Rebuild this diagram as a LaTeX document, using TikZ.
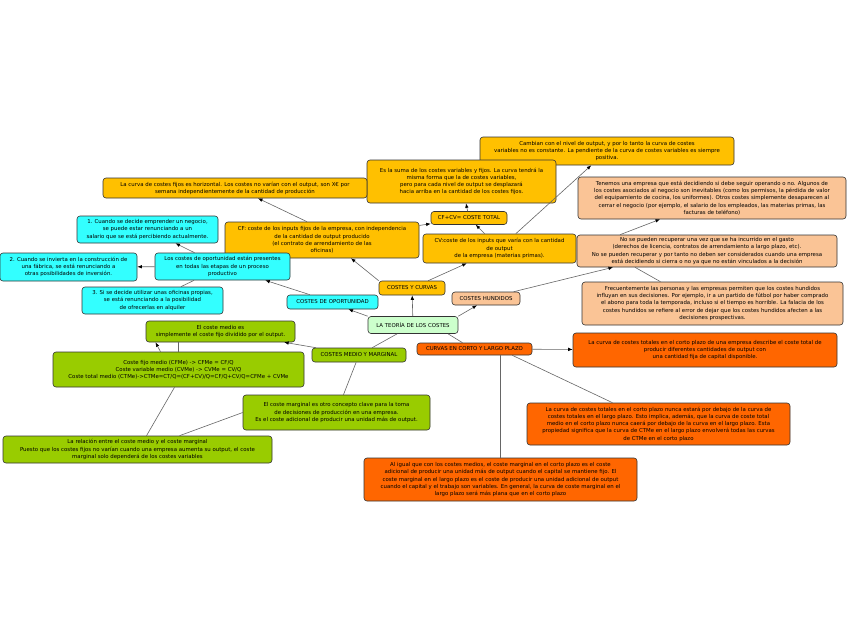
\documentclass[tikz,border=0pt]{standalone}
\usepackage{fontspec}
\setmainfont{DejaVu Sans}
\usepackage{xcolor}
\usepackage{tikz}
\usetikzlibrary{positioning, calc, arrows.meta}

\definecolor{rootcol}{HTML}{CCFFCC}
\definecolor{curvcol}{HTML}{FFC000}
\definecolor{opocol}{HTML}{33FFFF}
\definecolor{huncol}{HTML}{FAC496}
\definecolor{medcol}{HTML}{99CC00}
\definecolor{plazocol}{HTML}{FF6600}

\tikzset{
  box/.style={draw=black!80, line width=0.6pt, rounded corners=3pt, align=center,
    inner sep=1.2pt, font=\fontsize{5.4}{7.2}\selectfont},
  rootbox/.style={box, fill=rootcol},
  curvbox/.style={box, fill=curvcol},
  opobox/.style={box, fill=opocol},
  hunbox/.style={box, fill=huncol},
  medbox/.style={box, fill=medcol},
  plazobox/.style={box, fill=plazocol},
  link/.style={draw=black!60, line width=0.6pt},
  arr/.style={link, -{Latex[length=4.5pt,width=3.5pt,color=black]}},
}

\begin{document}
\begin{tikzpicture}[x=1pt, y=-1pt]
  \useasboundingbox[fill=white] (0,0) rectangle (848,638);

  % centro
  \node[rootbox, minimum width=90, minimum height=17] (root) at (413,325) {LA TEORÍA DE LOS COSTES};

  % ramas principales
  \node[curvbox, minimum width=66, minimum height=14] (cyc) at (412,288) {COSTES Y CURVAS};
  \node[opobox, minimum width=91, minimum height=14] (opo) at (332.5,302) {COSTES DE OPORTUNIDAD};
  \node[hunbox, minimum width=68, minimum height=13] (hun) at (486,298.5) {COSTES HUNDIDOS};
  \node[medbox, minimum width=94, minimum height=14] (mym) at (359,355) {COSTES MEDIO Y MARGINAL};
  \node[plazobox, minimum width=115, minimum height=12] (cla) at (474.5,349) {CURVAS EN CORTO Y LARGO PLAZO};

  % costes y curvas
  \node[curvbox, minimum width=254, minimum height=28] (camb) at (607,151)
    {Cambian con el nivel de output, y por lo tanto la curva de costes\\
     variables no es constante. La pendiente de la curva de costes variables es siempre\\
     positiva.};
  \node[curvbox, minimum width=189, minimum height=43] (suma) at (461.5,181.5)
    {Es la suma de los costes variables y fijos. La curva tendrá la\\
     misma forma que la de costes variables,\\
     pero para cada nivel de output se desplazará\\
     hacia arriba en la cantidad de los costes fijos.};
  \node[curvbox, minimum width=76, minimum height=13] (cft) at (469,218) {CF+CV= COSTE TOTAL};
  \node[curvbox, minimum width=264, minimum height=20] (hor) at (235,188)
    {La curva de costes fijos es horizontal. Los costes no varían con el output, son X€ por\\
     semana independientemente de la cantidad de producción};
  \node[curvbox, minimum width=194, minimum height=36] (cf) at (322,240)
    {CF: coste de los inputs fijos de la empresa, con independencia\\
     de la cantidad de output producido\\
     (el contrato de arrendamiento de las\\
     oficinas)};
  \node[curvbox, minimum width=153, minimum height=29] (cv) at (499.5,248.5)
    {CV:coste de los inputs que varía con la cantidad\\
     de output\\
     de la empresa (materias primas).};

  % oportunidad
  \node[opobox, minimum width=135, minimum height=27] (opo0) at (222.5,266.5)
    {Los costes de oportunidad están presentes\\
     en todas las etapas de un proceso\\
     productivo};
  \node[opobox, minimum width=141, minimum height=27] (opo1) at (147.5,229.5)
    {1. Cuando se decide emprender un negocio,\\
     se puede estar renunciando a un\\
     salario que se está percibiendo actualmente.};
  \node[opobox, minimum width=137, minimum height=28] (opo2) at (68.5,267)
    {2. Cuando se invierta en la construcción de\\
     una fábrica, se está renunciando a\\
     otras posibilidades de inversión.};
  \node[opobox, minimum width=141, minimum height=27] (opo3) at (152.5,300.5)
    {3. Si se decide utilizar unas oficinas propias,\\
     se está renunciando a la posibilidad\\
     de ofrecerlas en alquiler};

  % hundidos
  \node[hunbox, minimum width=268, minimum height=42] (hun1) at (712,198)
    {Tenemos una empresa que está decidiendo si debe seguir operando o no. Algunos de\\
     los costes asociados al negocio son inevitables (como los permisos, la pérdida de valor\\
     del equipamiento de cocina, los uniformes). Otros costes simplemente desaparecen al\\
     cerrar el negocio (por ejemplo, el salario de los empleados, las materias primas, las\\
     facturas de teléfono)};
  \node[hunbox, minimum width=260, minimum height=32] (hun2) at (707,251)
    {No se pueden recuperar una vez que se ha incurrido en el gasto\\
     (derechos de licencia, contratos de arrendamiento a largo plazo, etc).\\
     No se pueden recuperar y por tanto no deben ser considerados cuando una empresa\\
     está decidiendo si cierra o no ya que no están vinculados a la decisión};
  \node[hunbox, minimum width=261, minimum height=43] (hun3) at (712.5,303.5)
    {Frecuentemente las personas y las empresas permiten que los costes hundidos\\
     influyan en sus decisiones. Por ejemplo, ir a un partido de fútbol por haber comprado\\
     el abono para toda la temporada, incluso si el tiempo es horrible. La falacia de los\\
     costes hundidos se refiere al error de dejar que los costes hundidos afecten a las\\
     decisiones prospectivas.};

  % medio y marginal
  \node[medbox, minimum width=149, minimum height=21] (med1) at (220.5,331.5)
    {El coste medio es\\
     simplemente el coste fijo dividido por el output.};
  \node[medbox, minimum width=251, minimum height=35] (med2) at (178.5,369.5)
    {Coste fijo medio (CFMe) -> CFMe = CF/Q\\
     Coste variable medio (CVMe) -> CVMe = CV/Q\\
     Coste total medio (CTMe)->CTMe=CT/Q=(CF+CV)/Q=CF/Q+CV/Q=CFMe + CVMe};
  \node[medbox, minimum width=187, minimum height=35] (med3) at (336.5,412.5)
    {El coste marginal es otro concepto clave para la toma\\
     de decisiones de producción en una empresa.\\
     Es el coste adicional de producir una unidad más de output.};
  \node[medbox, minimum width=269, minimum height=27] (med4) at (137.5,449.5)
    {La relación entre el coste medio y el coste marginal\\
     Puesto que los costes fijos no varían cuando una empresa aumenta su output, el coste\\
     marginal solo dependerá de los costes variables};

  % corto y largo plazo
  \node[plazobox, minimum width=264, minimum height=34] (pla1) at (705,350)
    {La curva de costes totales en el corto plazo de una empresa describe el coste total de\\
     producir diferentes cantidades de output con\\
     una cantidad fija de capital disponible.};
  \node[plazobox, minimum width=263, minimum height=42] (pla2) at (658.5,424)
    {La curva de costes totales en el corto plazo nunca estará por debajo de la curva de\\
     costes totales en el largo plazo. Esto implica, además, que la curva de coste total\\
     medio en el corto plazo nunca caerá por debajo de la curva en el largo plazo. Esta\\
     propiedad significa que la curva de CTMe en el largo plazo envolverá todas las curvas\\
     de CTMe en el corto plazo};
  \node[plazobox, minimum width=273, minimum height=43] (pla3) at (500.5,479.5)
    {Al igual que con los costes medios, el coste marginal en el corto plazo es el coste\\
     adicional de producir una unidad más de output cuando el capital se mantiene fijo. El\\
     coste marginal en el largo plazo es el coste de producir una unidad adicional de output\\
     cuando el capital y el trabajo son variables. En general, la curva de coste marginal en el\\
     largo plazo será más plana que en el corto plazo};

  % conexiones del centro
  \draw[arr] (root) -- (cyc);
  \draw[arr] (root.north west) -- ([xshift=16pt]opo.south);
  \draw[arr] (root.north east) -- ([xshift=-9pt]hun.south);
  \draw[link] (root) -- (mym);
  \draw[link] ([xshift=35pt]root.south) -- ([xshift=-12pt]cla.north);

  % costes y curvas
  \draw[arr] (cyc.north west) -- ([xshift=29pt]cf.south);
  \draw[arr] (cyc) -- (cv);
  \draw[arr] (cf) -- (cft);
  \draw[arr] (cv) -- (cft);
  \draw[arr] (cft) -- (suma);
  \draw[arr] (cv) -- (camb);
  \draw[arr] ([xshift=-15pt]cf.north) -- ([xshift=23pt]hor.south);

  % oportunidad
  \draw[arr] (opo) -- (opo0);
  \draw[arr] (opo0) -- (opo1);
  \draw[arr] (opo0) -- (opo2);
  \draw[link] (opo0) -- (opo3);

  % hundidos
  \draw[arr] (hun) -- ([xshift=-94pt]hun2.south);
  \draw[arr] ([xshift=-87pt]hun2.north) -- ([xshift=-52pt]hun1.south);
  \draw[link] ([xshift=-72pt]hun2.south) -- ([xshift=-52pt]hun3.north);

  % medio y marginal
  \draw[arr] (mym) -- (med1);
  \draw[arr] ([xshift=-18pt]med2.north) -- ([xshift=-65pt]med1.south);
  \draw[link] (med1.south -| med2.north) -- (med2.north);
  \draw[link] (mym) -- (med3);
  \draw[link] (med3.west) -- ([xshift=42pt]med4.north);
  \draw[link] ([xshift=-4pt]med2.south) -- ([xshift=9pt]med4.north);

  % corto y largo plazo
  \draw[arr] (cla) -- (pla1);
  \draw[link] ([xshift=-20pt]cla.south east) -- ([xshift=-46pt]pla2.north);
  \draw[link] (pla3.north |- cla.south) -- (pla3.north);
\end{tikzpicture}
\end{document}
